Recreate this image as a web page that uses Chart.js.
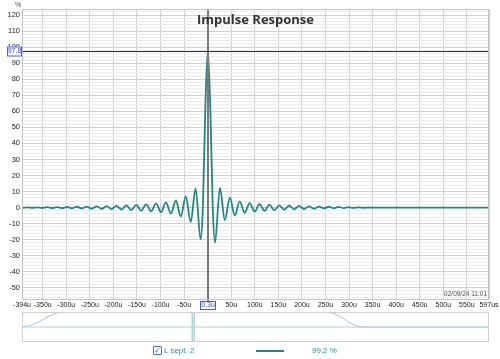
<!DOCTYPE html>
<html><head><meta charset="utf-8">
<script src="https://cdn.jsdelivr.net/npm/chart.js@4.4.1/dist/chart.umd.min.js"></script>
<style>
html,body{margin:0;padding:0;background:#fff;width:500px;height:359px;overflow:hidden;position:relative;font-family:'Liberation Sans',Arial,sans-serif}
#main{position:absolute;left:0;top:0}
#ov{position:absolute;left:0;top:305px}
.lg{position:absolute;font-size:8px;color:#2a958d;line-height:10px;white-space:nowrap}
</style></head><body>
<canvas id="main" width="500" height="312"></canvas>
<canvas id="ov" width="500" height="40"></canvas>
<div style="position:absolute;left:153px;top:346px;width:7px;height:7px;border:1px solid #4a6fd8;border-radius:1px;color:#3f5fd0;font-size:8px;line-height:7px;text-align:center;font-family:'DejaVu Sans'">✓</div>
<div class="lg" style="left:164px;top:346px">L sept. 2</div>
<div style="position:absolute;left:256px;top:350px;width:28px;height:2px;background:#23867f"></div>
<div class="lg" style="left:312px;top:346px">99,2 %</div>
<script>
// ---- data ----
const times = [-394,-393,-382.5,-372,-361.5,-351,-340.5,-330,-319.5,-309,-298.5,-288,-277.5,-267,-256.5,-246,-235.5,-225,-214.5,-204,-193.5,-183,-172.5,-162,-151.5,-141,-130.5,-120,-109.5,-99,-88.5,-78,-67.5,-57,-46.5,-36,-25.6,-14.9,-10.2,-5,0.3,5.6,10.8,15.5,26,36.5,47,57.5,68,78.5,89,99.5,110,120.5,131,141.5,152,162.5,173,183.5,194,204.5,215,225.5,236,246.5,257,267.5,278,288.5,299,309.5,320,330.5,341,352,597];
const values = [0,-0.05,0.1,-0.12,0.15,-0.2,0.22,-0.28,0.32,-0.38,0.42,-0.48,0.52,-0.58,0.62,-0.7,0.75,-0.85,0.9,-1.0,1.1,-1.2,1.35,-1.5,1.65,-1.85,2.05,-2.3,2.6,-2.9,3.3,-3.7,4.4,-5.5,6.9,-9,12,-20,0,62,97.8,62,0,-22,12.2,-7.8,6.2,-5,3.9,-3.3,2.8,-2.5,2.2,-2.0,1.8,-1.6,1.4,-1.3,1.2,-1.1,1.0,-0.9,0.8,-0.7,0.6,-0.55,0.5,-0.45,0.4,-0.3,0.25,-0.2,0.15,-0.1,0.05,0,0];
const xTicks = [-394,-350,-300,-250,-200,-150,-100,-50,0,50,100,150,200,250,300,350,400,450,500,550,597];
const yLabels = [-50,-40,-30,-20,-10,0,10,20,30,40,50,60,70,80,90,100,110,120];
const cursorX = 0.3, cursorY = 97.8;
const cursorXText = '0,3u', cursorYText = '97,8';
const ovTimes = [-394,-380,-365,-350,-335,-320,-307,249,265,280,295,310,327,597];
const ovWindow = [0,0.06,0.25,0.5,0.75,0.94,1,1,0.92,0.7,0.42,0.15,0,0];
const ovBase = [0,0];
const ovMarkers = [-33,-28];

const TEAL = '#23867f';
const pts = times.map((t,i)=>({x:t,y:values[i]}));

const mainPlugin = {
  id:'mainDeco',
  beforeDraw(chart){
    const {ctx} = chart;
    ctx.save(); ctx.fillStyle='#fff'; ctx.fillRect(0,0,chart.width,chart.height); ctx.restore();
  },
  afterDatasetsDraw(chart){
    const {ctx, chartArea:a, scales:{x,y}} = chart;
    const px = Math.round(x.getPixelForValue(cursorX));
    const py = Math.round(y.getPixelForValue(cursorY));
    ctx.save();
    ctx.strokeStyle='#7a7a7a'; ctx.lineWidth=2;
    ctx.beginPath(); ctx.moveTo(px, a.top); ctx.lineTo(px, a.bottom+2); ctx.stroke();
    ctx.strokeStyle='#2a2a2a'; ctx.lineWidth=1;
    ctx.beginPath(); ctx.moveTo(a.left, py+0.5); ctx.lineTo(a.right, py+0.5); ctx.stroke();
    ctx.strokeStyle='#c4c4c4'; ctx.lineWidth=1;
    ctx.strokeRect(a.left+0.5, a.top+0.5, a.right-a.left-1, a.bottom-a.top);
    ctx.font='7px "Liberation Sans"';
    ctx.fillStyle='#fff'; ctx.fillRect(7, py-4.5, 15, 9);
    ctx.strokeStyle='#4a5fd6'; ctx.strokeRect(7.5, py-4, 14, 9);
    ctx.fillStyle='#3a4fc8'; ctx.textAlign='center'; ctx.textBaseline='middle';
    ctx.fillText(cursorYText, 14.5, py+0.5);
    ctx.fillStyle='#fff'; ctx.fillRect(px-8, a.bottom+2, 16, 9);
    ctx.strokeStyle='#4a5fd6'; ctx.strokeRect(px-7.5, a.bottom+2.5, 15, 8);
    ctx.fillStyle='#3a4fc8'; ctx.fillText(cursorXText, px, a.bottom+6.5);
    ctx.fillStyle='#333'; ctx.font='bold 13px "Open Sans"'; ctx.textBaseline='alphabetic';
    ctx.fillText('Impulse Response', (a.left+a.right)/2, 24);
    ctx.font='7px "Liberation Sans"'; ctx.fillStyle='#444';
    ctx.fillText('%', 18, 7);
    ctx.font='6.5px "Liberation Sans"'; ctx.fillStyle='#555'; ctx.textAlign='right';
    ctx.fillText('02/09/24 11:01', a.right-2, a.bottom-3);
    ctx.restore();
  }
};

new Chart(document.getElementById('main'), {
  type:'line',
  data:{datasets:[{data:pts, borderColor:TEAL, borderWidth:1.8, pointRadius:0, cubicInterpolationMode:'monotone', fill:false}]},
  options:{
    responsive:false, animation:false, events:[],
    layout:{padding:{left:0,right:11,top:9,bottom:0}},
    plugins:{legend:{display:false}, tooltip:{enabled:false}, title:{display:false}},
    scales:{
      x:{type:'linear', min:-394, max:597,
        afterBuildTicks:(s)=>{ s.ticks = xTicks.map(v=>({value:v})); },
        afterFit:(s)=>{ s.height=13; s.paddingLeft=0; s.paddingRight=0; },
        grid:{color:'#cecece', lineWidth:1, drawTicks:false},
        border:{display:false},
        ticks:{autoSkip:false, maxRotation:0, padding:2, color:'#222', font:{family:'Liberation Sans', size:7},
          callback:(v)=> v===0 ? '' : (v===597 ? v+'us' : v+'u')}
      },
      y:{type:'linear', min:-57, max:123.8,
        afterBuildTicks:(s)=>{ const t=[]; for(let v=-56; v<=122; v+=2) t.push({value:v}); s.ticks=t; },
        afterFit:(s)=>{ s.width=22; s.paddingTop=0; s.paddingBottom=0; },
        grid:{drawTicks:false, color:(c)=> (c.tick && c.tick.value%10===0) ? '#d0d0d0' : '#ececec', lineWidth:1},
        border:{display:false},
        ticks:{autoSkip:false, padding:2, color:'#222', font:{family:'Liberation Sans', size:7.5},
          callback:(v)=> yLabels.includes(v) ? String(v) : ''}
      }
    }
  },
  plugins:[mainPlugin]
});

const ovPlugin = {
  id:'ovDeco',
  afterDatasetsDraw(chart){
    const {ctx, chartArea:a, scales:{x}} = chart;
    ctx.save();
    ovMarkers.forEach((m,i)=>{
      const px = Math.round(x.getPixelForValue(m));
      ctx.strokeStyle = i===0 ? '#a6d6d0' : '#cccccc'; ctx.lineWidth = i===0 ? 2 : 1;
      ctx.beginPath(); ctx.moveTo(px+0.5, a.top); ctx.lineTo(px+0.5, a.bottom); ctx.stroke();
    });
    ctx.strokeStyle='#cfcfcf'; ctx.lineWidth=1;
    ctx.strokeRect(a.left+0.5, a.top+0.5, a.right-a.left-1, a.bottom-a.top-1);
    ctx.restore();
  }
};
new Chart(document.getElementById('ov'), {
  type:'line',
  data:{datasets:[
    {data:[{x:-394,y:ovBase[0]},{x:597,y:ovBase[1]}], borderColor:'#a8d6d1', borderWidth:1, pointRadius:0},
    {data:ovTimes.map((t,i)=>({x:t,y:ovWindow[i]})), borderColor:'#b8b8e6', borderWidth:1, pointRadius:0, cubicInterpolationMode:'monotone'}
  ]},
  options:{
    responsive:false, animation:false, events:[],
    layout:{padding:{left:22,right:11,top:7,bottom:3}},
    plugins:{legend:{display:false}, tooltip:{enabled:false}},
    scales:{x:{type:'linear',min:-394,max:597,display:false}, y:{min:-1,max:1,display:false}}
  },
  plugins:[ovPlugin]
});
</script>
</body></html>
